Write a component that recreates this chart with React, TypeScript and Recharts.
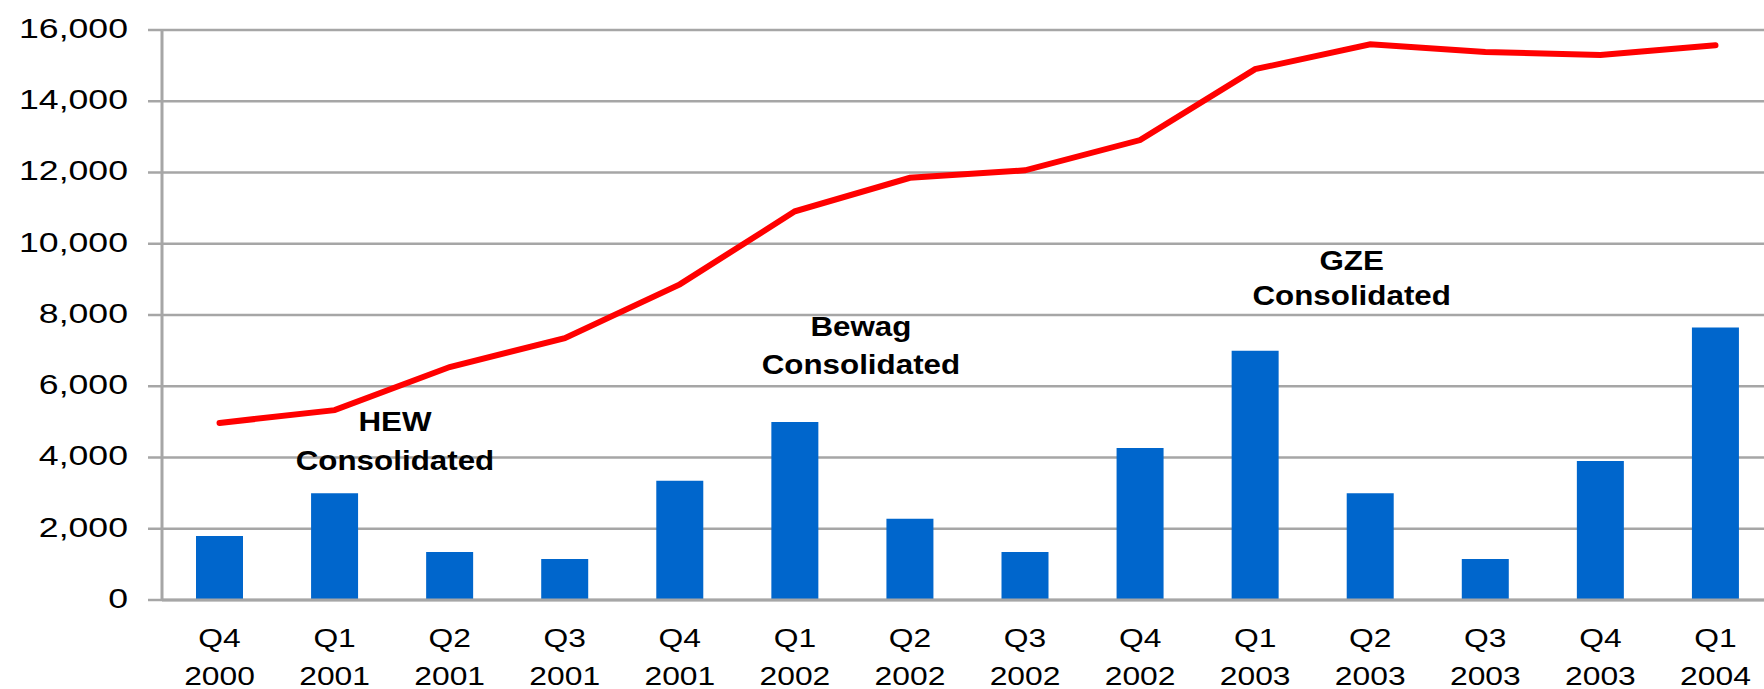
import React from 'react';
import { ComposedChart, Bar, Line, XAxis, YAxis, CartesianGrid, ReferenceDot } from 'recharts';

const quarters = [
  'Q4 2000', 'Q1 2001', 'Q2 2001', 'Q3 2001', 'Q4 2001', 'Q1 2002', 'Q2 2002',
  'Q3 2002', 'Q4 2002', 'Q1 2003', 'Q2 2003', 'Q3 2003', 'Q4 2003', 'Q1 2004',
];
const quarterlyValues = [1800, 3000, 1350, 1150, 3350, 5000, 2280, 1350, 4270, 7000, 3000, 1150, 3900, 7650];
const totalValues = [4970, 5330, 6540, 7350, 8860, 10910, 11850, 12060, 12910, 14900, 15600, 15380, 15300, 15570];
const yTicks = [0, 2000, 4000, 6000, 8000, 10000, 12000, 14000, 16000];
const boundaryTicks = [0, 1, 2, 3, 4, 5, 6, 7, 8, 9, 10, 11, 12, 13, 14];

// consolidation notes: name, position in quarter units, value at each text line
const noteNames = ['HEW', 'Bewag', 'GZE'];
const notePositions = [1.88, 5.64, 9.6];
const noteTitleValues = [4750, 7410, 9260];
const noteSubValues = [3650, 6340, 8280];

const data = quarters.map((quarter, i) => ({
  quarter,
  quarterly: quarterlyValues[i],
  total: totalValues[i],
}));

const FONT = '"Liberation Sans", Arial, sans-serif';
const GRID = '#A6A6A6';

const fmt = (v: number) => v.toLocaleString('en-US');

const stretch = (x: number, k: number) => `translate(${x} 0) scale(${k} 1) translate(${-x} 0)`;

const YTick = ({ x, y, payload }: any) => (
  <text x={x} y={y} dy={8} textAnchor="end" fontFamily={FONT} fontSize={28.5} fill="#000"
    transform={stretch(x, 1.25)}>
    {fmt(payload.value)}
  </text>
);

const XTick = ({ x, y, payload }: any) => {
  const [q, year] = String(payload.value).split(' ');
  return (
    <g transform={stretch(x, 1.2)}>
      <text x={x} y={y} dy={39} textAnchor="middle" fontFamily={FONT} fontSize={26.5} fill="#000">{q}</text>
      <text x={x} y={y} dy={77} textAnchor="middle" fontFamily={FONT} fontSize={26.5} fill="#000">{year}</text>
    </g>
  );
};

const noteText = (label: string) => (p: any) => (
  <text x={p.cx} y={p.cy} textAnchor="middle" fontFamily={FONT} fontWeight="bold" fontSize={28}
    fill="#000" transform={stretch(p.cx, 1.12)}>
    {label}
  </text>
);

const App: React.FC = () => (
  <div style={{ position: 'absolute', left: 0, top: 0, width: 1764, height: 689, overflow: 'hidden', background: '#fff' }}>
    <ComposedChart width={1773} height={689} data={data} margin={{ top: 30, right: 0, left: 0, bottom: 0 }}>
      <CartesianGrid vertical={false} stroke={GRID} strokeWidth={2.5} />
      <XAxis
        xAxisId="edges"
        type="number"
        domain={[0, 14]}
        ticks={boundaryTicks}
        allowDataOverflow
        height={0}
        tick={false}
        axisLine={false}
        tickSize={8}
        tickLine={{ stroke: GRID, strokeWidth: 3 }}
      />
      <XAxis
        xAxisId="cat"
        dataKey="quarter"
        interval={0}
        height={89}
        tickLine={false}
        axisLine={{ stroke: GRID, strokeWidth: 3 }}
        tick={<XTick />}
      />
      <YAxis
        domain={[0, 16000]}
        ticks={yTicks}
        interval={0}
        width={162}
        tickSize={14}
        tickMargin={20}
        axisLine={{ stroke: GRID, strokeWidth: 3 }}
        tickLine={{ stroke: GRID, strokeWidth: 2.5 }}
        tick={<YTick />}
      />
      <Bar xAxisId="cat" dataKey="quarterly" fill="#0066CC" barSize={47} isAnimationActive={false} />
      <Line
        xAxisId="cat"
        type="linear"
        dataKey="total"
        stroke="#FF0000"
        strokeWidth={6}
        strokeLinecap="round"
        dot={false}
        activeDot={false}
        isAnimationActive={false}
      />
      {noteNames.map((name, i) => (
        <ReferenceDot key={name} xAxisId="edges" x={notePositions[i]} y={noteTitleValues[i]} r={0}
          shape={noteText(name)} />
      ))}
      {noteNames.map((name, i) => (
        <ReferenceDot key={name + '-sub'} xAxisId="edges" x={notePositions[i]} y={noteSubValues[i]} r={0}
          shape={noteText('Consolidated')} />
      ))}
    </ComposedChart>
  </div>
);

export default App;
